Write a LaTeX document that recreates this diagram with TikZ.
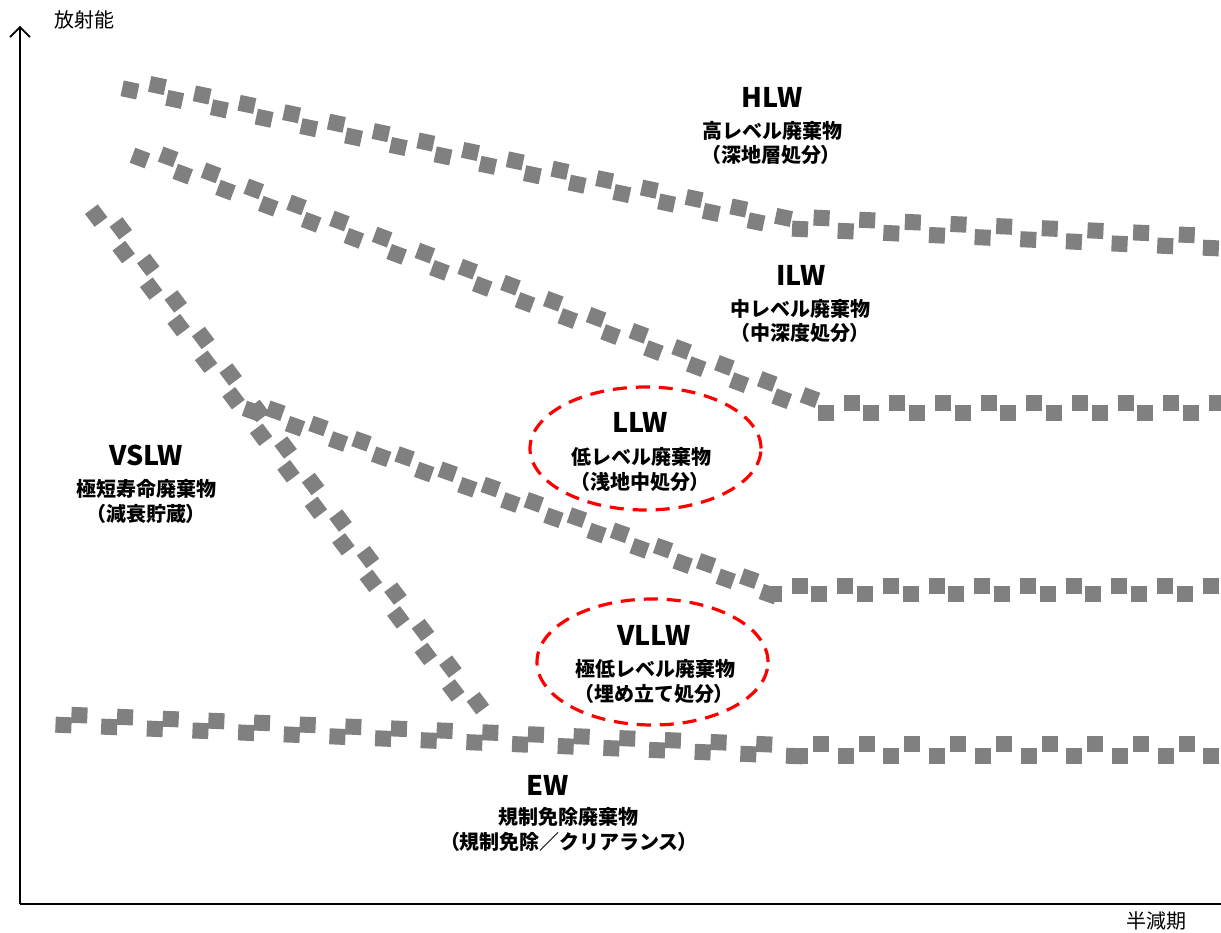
\documentclass[tikz,border=0pt]{standalone}
\usepackage{fontspec}
\usetikzlibrary{decorations.markings,arrows.meta,shapes.geometric}
\newfontfamily\jp{Noto Sans CJK JP}
\newfontfamily\jpp{Noto Sans CJK JP}[RawFeature=+palt]
\definecolor{sqgray}{RGB}{128,128,128}
\definecolor{ovred}{RGB}{255,0,0}
\tikzset{
  sq/.style n args={3}{postaction={decorate,decoration={markings,
    mark=between positions 0 and 1 step #3 with {\fill[sqgray] (-8pt,{-(#1)-8pt}) rectangle (8pt,{-(#1)+8pt});},
    mark=between positions #2 and 1 step #3 with {\fill[sqgray] (-8pt,{(#1)-8pt}) rectangle (8pt,{(#1)+8pt});}}}},
  ttl/.style={font=\jp\bfseries\fontsize{27}{27}\selectfont, inner sep=0pt},
  sub/.style={font=\jp\bfseries\fontsize{20}{20}\selectfont, inner sep=0pt},
  axl/.style={font=\jp\fontsize{20}{20}\selectfont, inner sep=0pt},
  ov/.style={ellipse, draw=ovred, line width=3.2pt, dash pattern=on 14pt off 9pt, inner sep=0pt},
  axis/.style={line width=1.8pt, black}
}
\begin{document}
\begin{tikzpicture}[x=1pt,y=-1pt]
\useasboundingbox (0,0) rectangle (1221,933);
% axes
\coordinate (o) at (20,904);
\coordinate (ytop) at (20,26);
\coordinate (xend) at (1221,904);
\draw[axis, -{Straight Barb[length=10pt,width=20pt,line width=1.6pt]}] (o) -- (ytop);
\draw[axis] (o) -- (xend);
\node[axl] (ylab) at (84,20) {放射能};
\node[axl] (xlab) at (1156,921) {半減期};
% square-dotted lines
\coordinate (h1a) at (131,85.1);   \coordinate (h1b) at (788,223.5);
\coordinate (h2a) at (800.3,223);  \coordinate (h2b) at (1219,242.4);
\coordinate (i1a) at (141.9,152.9); \coordinate (i1b) at (815.8,405.6);
\coordinate (i2a) at (825.5,408);  \coordinate (i2b) at (1221,408);
\coordinate (l1a) at (253.3,407.2); \coordinate (l1b) at (773.8,591.6);
\coordinate (l2a) at (773.5,590);  \coordinate (l2b) at (1219,590);
\coordinate (va) at (101,212);     \coordinate (vb) at (478.4,713.8);
\coordinate (e1a) at (63.7,719.75); \coordinate (e1b) at (795,750.8);
\coordinate (e2a) at (800,750);    \coordinate (e2b) at (1219,750);
\path[sq={5pt}{26pt}{45.7pt}] (h1a) -- (h1b);
\path[sq={6pt}{21pt}{45.7pt}] (h2a) -- (h2b);
\path[sq={5.5pt}{26pt}{45.7pt}] (i1a) -- (i1b);
\path[sq={5pt}{26pt}{45.7pt}] (i2a) -- (i2b);
\path[sq={4pt}{22pt}{45.7pt}] (l1a) -- (l1b);
\path[sq={4pt}{26pt}{45.7pt}] (l2a) -- (l2b);
\path[sq={6pt}{25pt}{45.7pt}] (va) -- (vb);
\path[sq={5.25pt}{15.5pt}{45.7pt}] (e1a) -- (e1b);
\path[sq={6pt}{21pt}{45.7pt}] (e2a) -- (e2b);
% ellipses
\node[ov, minimum width=231pt, minimum height=123pt] (llwov) at (645.5,448.5) {};
\node[ov, minimum width=231pt, minimum height=126pt] (vllwov) at (652.5,662) {};
% labels
\node[ttl] (hlwA) at (772,97) {HLW};
\node[sub] (hlwB) at (772,131) {高レベル廃棄物};
\node[sub] (hlwC) at (771,155) {{\jpp （}深地層処分{\jpp ）}};
\node[ttl] (ilwA) at (801,275) {ILW};
\node[sub] (ilwB) at (800,309) {中レベル廃棄物};
\node[sub] (ilwC) at (800,333) {{\jpp （}中深度処分{\jpp ）}};
\node[ttl] (llwA) at (640,422.5) {LLW};
\node[sub] (llwB) at (641.5,457) {低レベル廃棄物};
\node[sub] (llwC) at (640,482) {{\jpp （}浅地中処分{\jpp ）}};
\node[ttl] (vllwA) at (654,635) {VLLW};
\node[sub] (vllwB) at (655,669) {極低レベル廃棄物};
\node[sub] (vllwC) at (654,693.5) {{\jpp （}埋め立て処分{\jpp ）}};
\node[ttl] (vslwA) at (146,455) {VSLW};
\node[sub] (vslwB) at (146,489) {極短寿命廃棄物};
\node[sub] (vslwC) at (146,514) {{\jpp （}減衰貯蔵{\jpp ）}};
\node[ttl] (ewA) at (548,785) {EW};
\node[sub] (ewB) at (568,817) {規制免除廃棄物};
\node[sub] (ewC) at (569,842) {{\jpp （}規制免除／クリアランス{\jpp ）}};
\end{tikzpicture}
\end{document}
